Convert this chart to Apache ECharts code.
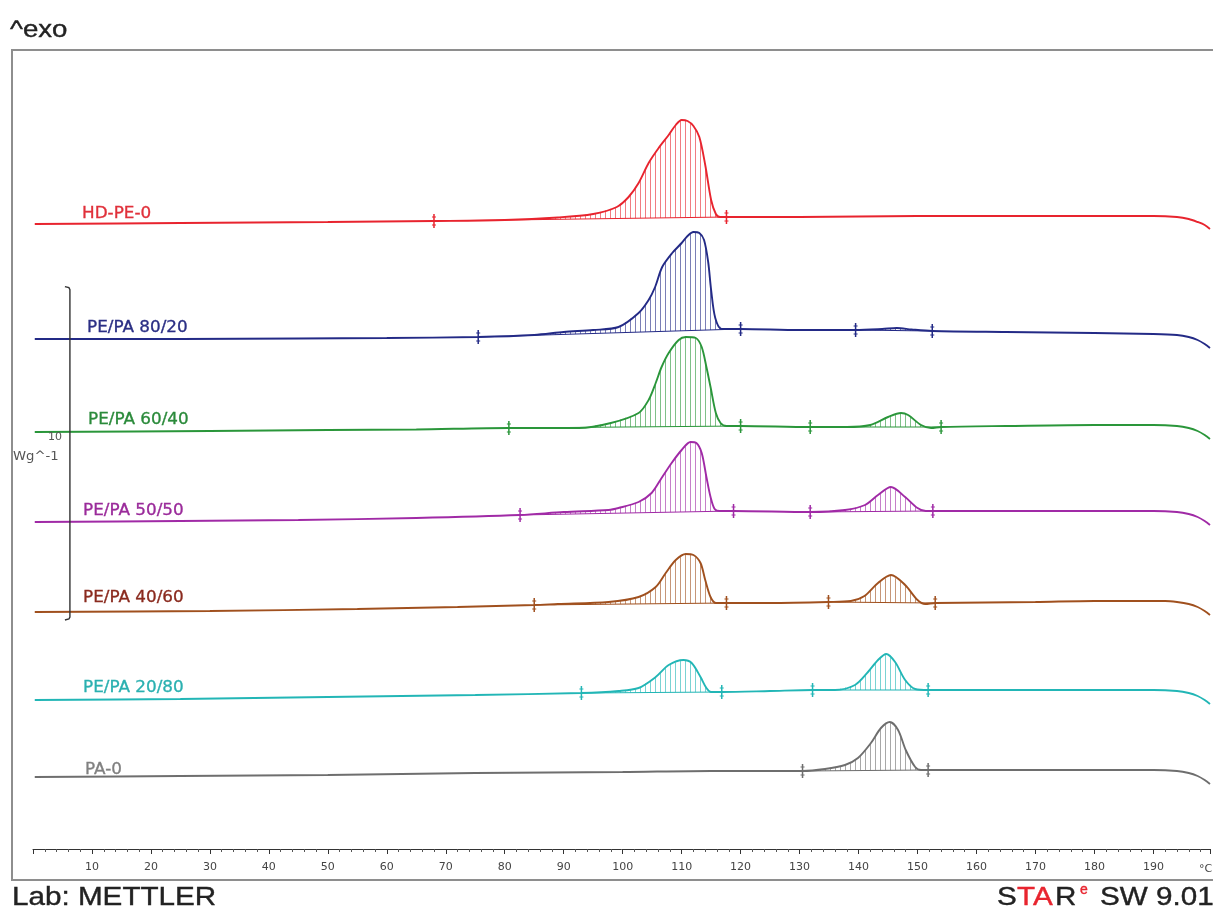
<!DOCTYPE html>
<html><head><meta charset="utf-8">
<script src="https://cdn.jsdelivr.net/npm/echarts@6/dist/echarts.min.js"></script>
<style>html,body{margin:0;padding:0;background:#fff}#c{width:1213px;height:911px}</style>
</head><body><div id="c"></div>
<script>
// ---- DATA (temperature °C, heat flow W/g incl. vertical offset) ----
const curveNames = ['HD-PE-0','PE/PA 80/20','PE/PA 60/40','PE/PA 50/50','PE/PA 40/60','PE/PA 20/80','PA-0'];

const hdpe0 = [[0.3,18.75],[25,18.78],[50,18.81],[68,18.84],[80,18.87],[89,18.945],[95,19.05],[99,19.26],[101,19.56],[102.7,19.98],[104.4,20.58],[106.1,21.03],[107.8,21.42],[109,21.72],[110,21.87],[111,21.84],[112,21.69],[113,21.36],[114,20.52],[115,19.47],[115.8,19.05],[116.5,18.96],[117.6,18.96],[130,18.96],[150,18.99],[170,18.99],[190,18.99],[194,18.96],[196,18.9],[197.5,18.81],[198.7,18.72],[199.6,18.6]];
const pepa8020 = [[0.3,15.30],[25,15.30],[45,15.315],[60,15.33],[75.5,15.36],[85,15.42],[90,15.51],[95,15.57],[99.3,15.66],[102.7,16.08],[104.4,16.47],[105.5,16.86],[106.7,17.46],[108.4,17.88],[110,18.18],[111,18.39],[112,18.51],[113,18.48],[113.8,18.27],[114.5,17.61],[115,16.77],[115.7,15.93],[116.8,15.60],[120,15.60],[130,15.57],[139.5,15.57],[144,15.60],[146.5,15.63],[149,15.585],[152.5,15.54],[165,15.51],[180,15.48],[190,15.45],[194,15.42],[196,15.36],[197.5,15.27],[198.7,15.15],[199.6,15.03]];
const pepa6040 = [[0.3,12.51],[30,12.54],[50,12.57],[65,12.585],[80.7,12.63],[92.6,12.63],[98,12.78],[102.7,13.08],[104.4,13.47],[105.6,13.98],[106.6,14.46],[107.8,14.88],[109.5,15.27],[110.7,15.36],[112.4,15.33],[113.4,15.06],[114.2,14.46],[114.9,13.86],[115.8,13.08],[116.6,12.78],[117.6,12.69],[120,12.69],[131.8,12.66],[138,12.66],[142,12.72],[145,12.96],[147.2,13.08],[148.4,13.02],[150.6,12.72],[152.3,12.63],[154,12.66],[165,12.69],[180,12.72],[190,12.72],[194,12.69],[196,12.63],[197.5,12.54],[198.7,12.42],[199.6,12.30]];
const pepa5050 = [[0.3,9.81],[25,9.84],[45,9.87],[65,9.93],[82.6,10.02],[90,10.11],[97.6,10.17],[99.3,10.23],[102.7,10.41],[104.9,10.68],[106.6,11.13],[108.3,11.58],[110,11.97],[111.5,12.21],[112.5,12.18],[113.4,11.88],[114.2,11.16],[114.9,10.56],[115.6,10.20],[116.5,10.14],[118.8,10.14],[131.8,10.11],[137.7,10.17],[141.1,10.32],[143.3,10.62],[145.5,10.86],[147.9,10.56],[150,10.23],[151.4,10.14],[152.6,10.14],[170,10.14],[190,10.14],[194,10.11],[196,10.05],[197.5,9.96],[198.7,9.84],[199.6,9.72]];
const pepa4060 = [[0.3,7.11],[30,7.14],[55,7.20],[72,7.26],[85,7.32],[89,7.35],[97.6,7.41],[102.7,7.56],[105.6,7.86],[107.3,8.28],[109,8.67],[110.7,8.85],[112,8.82],[113.2,8.58],[114,8.07],[114.9,7.56],[115.8,7.38],[117.6,7.38],[125,7.38],[134.9,7.41],[138.7,7.44],[141,7.59],[143.3,7.98],[145.5,8.22],[147.9,7.92],[150,7.47],[151.3,7.35],[153,7.38],[170,7.41],[180,7.44],[192,7.44],[194,7.41],[196,7.35],[197.5,7.26],[198.7,7.14],[199.6,7.02]];
const pepa2080 = [[0.3,4.47],[25,4.50],[50,4.56],[75,4.62],[93,4.68],[99.3,4.74],[102.7,4.83],[105.6,5.16],[107.8,5.52],[110.3,5.67],[111.7,5.58],[113.2,5.16],[114.2,4.83],[115,4.71],[116.8,4.71],[125,4.74],[132.2,4.77],[136,4.77],[139.4,4.92],[141.6,5.31],[143.3,5.67],[144.7,5.85],[146.2,5.61],[147.9,5.07],[149.6,4.80],[151.8,4.77],[170,4.77],[190,4.77],[194,4.74],[196,4.68],[197.5,4.59],[198.7,4.47],[199.6,4.35]];
const pa0 = [[0.3,2.16],[25,2.19],[50,2.22],[75,2.28],[100,2.31],[115,2.34],[130.5,2.34],[134.3,2.40],[137.7,2.52],[139.9,2.73],[142.1,3.18],[143.8,3.63],[145.3,3.81],[146.7,3.57],[148,2.97],[149.6,2.46],[150.6,2.37],[151.8,2.37],[170,2.37],[190,2.37],[194,2.34],[196,2.28],[197.5,2.19],[198.7,2.07],[199.6,1.95]];

// integration limits [start °C, end °C]
const hdpe0Limits = [[68,117.6]];
const pepa8020Limits = [[75.5,120],[139.5,152.5]];
const pepa6040Limits = [[80.7,120],[131.8,154]];
const pepa5050Limits = [[82.6,118.8],[131.8,152.6]];
const pepa4060Limits = [[85,117.6],[134.9,153]];
const pepa2080Limits = [[93,116.8],[132.2,151.8]];
const pa0Limits = [[130.5,151.8]];

// scale bar: [temperature, from W/g, to W/g]
const scaleBar = [6.26, 6.87, 16.87];
const scaleBarLabel = '10';
const scaleBarUnit = 'Wg^-1';
const xMin = 0, xMax = 199.6, xInterval = 10;

// ---- STYLE ----
const curves = [hdpe0, pepa8020, pepa6040, pepa5050, pepa4060, pepa2080, pa0];
const limits = [hdpe0Limits, pepa8020Limits, pepa6040Limits, pepa5050Limits, pepa4060Limits, pepa2080Limits, pa0Limits];
const lineColors = ['#e8242e','#232a86','#2a963a','#a02aa6','#a0501e','#22b6b6','#6e6e6e'];
const labelColors = ['#e0303a','#2a2e84','#2a8a3a','#9a2a9a','#8a2a1e','#2ab0b0','#808080'];
const labelPos = [[82,214],[87,328],[88,420],[83,511],[83,598],[83,688],[85,770]];

function hatchPattern(color){
  const c = document.createElement('canvas');
  c.width = 5; c.height = 4;
  const g = c.getContext('2d');
  g.globalAlpha = 0.6;
  g.fillStyle = color;
  g.fillRect(0,0,1,4);
  return {image: c, repeat: 'repeat'};
}

const series = [];
curves.forEach((curve, i) => {
  const color = lineColors[i];
  const pat = hatchPattern(color);
  const lim = limits[i];
  series.push({
    type:'custom', name: curveNames[i] + ' integration', data: lim, encode:{x:[0,1]}, silent:true, z:1, clip:false,
    renderItem: function(params, api){
      const r = lim[params.dataIndex];
      const pts = curve.filter(p => p[0] >= r[0] && p[0] <= r[1]).map(p => api.coord(p));
      const a = pts[0], b = pts[pts.length-1];
      const children = [
        {type:'polygon', shape:{points:pts}, style:{fill:pat, stroke:null}},
        {type:'line', shape:{x1:a[0],y1:a[1],x2:b[0],y2:b[1]}, style:{stroke:color, lineWidth:1.2}}
      ];
      [a,b].forEach(p => {
        children.push({type:'line', shape:{x1:p[0],y1:p[1]-7,x2:p[0],y2:p[1]+7}, style:{stroke:color, lineWidth:1.5}});
        children.push({type:'line', shape:{x1:p[0]-2,y1:p[1]-4,x2:p[0]+2,y2:p[1]-4}, style:{stroke:color, lineWidth:1}});
        children.push({type:'line', shape:{x1:p[0]-2,y1:p[1]+4,x2:p[0]+2,y2:p[1]+4}, style:{stroke:color, lineWidth:1}});
      });
      return {type:'group', children};
    }
  });
  series.push({
    type:'line', name: curveNames[i], data: curve, showSymbol:false, symbol:'none', z:2,
    smooth:0.3,
    lineStyle:{color:color, width:1.9}, silent:true
  });
});

series.push({
  type:'custom', name:'scale', data:[scaleBar], encode:{x:0}, silent:true, z:3, clip:false,
  renderItem: function(params, api){
    const top = api.coord([scaleBar[0], scaleBar[2]]);
    const bot = api.coord([scaleBar[0], scaleBar[1]]);
    return {type:'group', children:[
      {type:'polyline', shape:{points:[[top[0]-5,top[1]],[top[0]-1,top[1]+1],[top[0],top[1]+3],[bot[0],bot[1]-3],[bot[0]-1,bot[1]-1],[bot[0]-5,bot[1]]]}, style:{stroke:'#333', lineWidth:1.4, fill:null}}
    ]};
  }
});

function txt(x, y, text, fill, font, sx, extra){
  return Object.assign({type:'text', x:x, y:y, scaleX:sx || 1, z:10,
    style:Object.assign({text:text, fill:fill, font:font, textAlign:'left', textVerticalAlign:'middle', align:'left', verticalAlign:'middle'}, extra || {})});
}

const graphics = [
  {type:'polyline', shape:{points:[[1213,50],[12,50],[12,880],[1213,880]]}, style:{stroke:'#8e8e8e', lineWidth:2, fill:null}, silent:true},
  txt(10, 30, '^exo', '#222', '24px "Liberation Sans"', 1.15, {stroke:'#222', lineWidth:0.4}),
  txt(12, 898, 'Lab: METTLER', '#222', '26px "Liberation Sans"', 1.14, {stroke:'#222', lineWidth:0.4}),
  txt(997, 898, 'S', '#222', '26px "Liberation Sans"', 1.14, {stroke:'#222', lineWidth:0.4}),
  txt(1017, 898, 'TA', '#e8242e', '26px "Liberation Sans"', 1.14, {stroke:'#e8242e', lineWidth:0.4}),
  txt(1055, 898, 'R', '#222', '26px "Liberation Sans"', 1.14, {stroke:'#222', lineWidth:0.4}),
  txt(1080, 890, 'e', '#e8242e', '14px "Liberation Sans"', 1, {stroke:'#e8242e', lineWidth:0.4}),
  txt(1100, 898, 'SW 9.01', '#222', '26px "Liberation Sans"', 1.14, {stroke:'#222', lineWidth:0.4}),
  txt(1199, 869, '°C', '#444', '11px "DejaVu Sans"', 1),
  txt(62, 437, scaleBarLabel, '#555', '11px "DejaVu Sans"', 1, {textAlign:'right', align:'right'}),
  txt(13, 457, scaleBarUnit, '#555', '12px "DejaVu Sans"', 1.1)
];
curveNames.forEach((n, i) => {
  graphics.push(txt(labelPos[i][0], labelPos[i][1], n, labelColors[i], '15px "DejaVu Sans"', 1.12, {stroke:labelColors[i], lineWidth:0.3}));
});

const chart = echarts.init(document.getElementById('c'), null, {renderer:'canvas'});
chart.setOption({
  animation:false,
  backgroundColor:'#fff',
  grid:{left:33, right:0, top:50, bottom:62, containLabel:false},
  xAxis:{type:'value', min:xMin, max:xMax, interval:xInterval,
    axisLine:{show:true, lineStyle:{color:'#333', width:1}},
    axisTick:{show:true, length:5, lineStyle:{color:'#333'}},
    minorTick:{show:true, splitNumber:5, length:3, lineStyle:{color:'#555'}},
    splitLine:{show:false},
    axisLabel:{color:'#444', fontSize:11, fontFamily:'DejaVu Sans', margin:13,
      formatter: v => (v > 0 && v % 10 === 0) ? String(v) : ''}
  },
  yAxis:{type:'value', min:0, max:23.97, show:false, splitLine:{show:false}},
  series: series,
  graphic: graphics
});
</script></body></html>
